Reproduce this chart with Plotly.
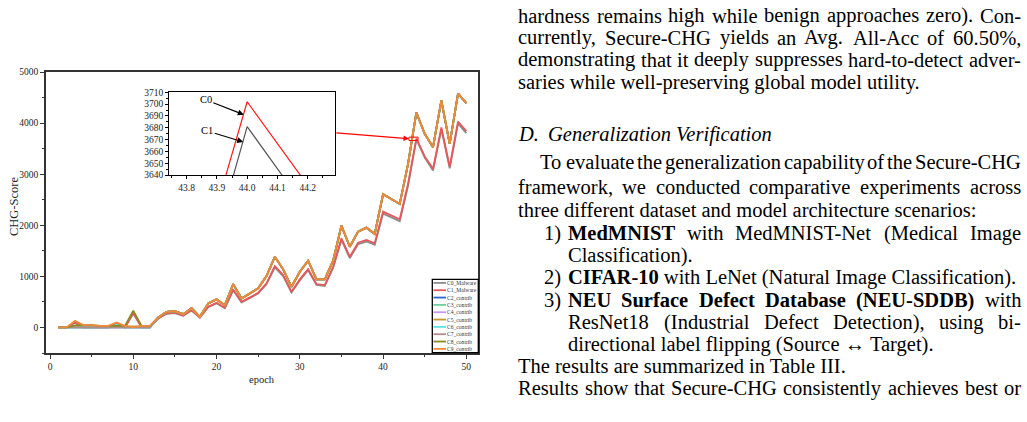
import plotly.graph_objects as go

# ---------------- page geometry ----------------
W, H = 1027, 422
ML, MR, MT, MB = 46, 549, 72, 69
PW = W - ML - MR
PH = H - MT - MB


def pxx(px):
    return (px - ML) / PW


def pxy(py):
    return (H - MB - py) / PH


# ---------------- data ----------------
epochs = list(range(1, 51))
series_names = ["C0_Malware", "C1_Malware", "C2_contrib", "C3_contrib", "C4_contrib",
                "C5_contrib", "C6_contrib", "C7_contrib", "C8_contrib", "C9_contrib"]
series_colors = ["#8c8c8c", "#e8585a", "#2a66c8", "#6fcf9c", "#c49ae8",
                 "#c8962a", "#5ee3e3", "#b08c8c", "#8a8a1e", "#f08a3c"]

c0_malware = [0, 0, 95, 0, 0, 0, 0, 75, 0, 270, 0, 0,
              172, 268, 280, 228, 330, 190, 395, 472, 376, 728,
              490, 574, 664, 845, 1178, 1003, 682, 921, 1120, 832,
              812, 1165, 1712, 1356, 1630, 1682, 1617, 2228, 2152, 2080,
              2770, 3681, 3324, 3070, 3878, 3115, 3990, 3805]
c1_malware = [0, 0, 105, 0, 0, 0, 0, 85, 0, 290, 0, 0,
              180, 277, 288, 235, 340, 196, 405, 484, 386, 745,
              503, 588, 680, 863, 1202, 1025, 698, 941, 1143, 850,
              829, 1188, 1745, 1384, 1659, 1712, 1647, 2267, 2190, 2117,
              2816, 3702, 3348, 3104, 3914, 3149, 4031, 3843]
contrib_late = [196, 306, 320, 261, 379, 209, 470, 549, 437, 849,
                568, 667, 765, 1006, 1384, 1137, 796, 1090, 1306, 941,
                941, 1306, 1992, 1580, 1875, 1953, 1829, 2608, 2510, 2418,
                3200, 4208, 3790, 3529, 4443, 3594, 4575, 4392]
c2_early = [0, 0, 0, 0, 0, 0, 0, 0, 0, 0, 0, 0]
c3_early = [0, 0, 10, 0, 0, 0, 0, 40, 0, 0, 0, 0]
c4_early = [0, 0, 0, 0, 0, 0, 0, 0, 0, 0, 0, 0]
c5_early = [0, 0, 20, 40, 40, 20, 20, 30, 20, 20, 20, 20]
c6_early = [0, 0, 0, 0, 0, 0, 0, 50, 0, 0, 0, 0]
c7_early = [0, 0, 0, 0, 0, 0, 0, 0, 0, 0, 0, 0]
c8_early = [0, 0, 40, 45, 45, 30, 30, 30, 30, 330, 30, 30]
c9_early = [0, 0, 130, 45, 45, 30, 30, 98, 30, 0, 30, 30]

series_values = [c0_malware, c1_malware,
                 c2_early + contrib_late, c3_early + contrib_late,
                 c4_early + contrib_late, c5_early + contrib_late,
                 c6_early + contrib_late, c7_early + contrib_late,
                 c8_early + contrib_late, c9_early + contrib_late]

x_ticks = [0, 10, 20, 30, 40, 50]
y_ticks = [0, 1000, 2000, 3000, 4000, 5000]
inset_x_ticks = [43.8, 43.9, 44.0, 44.1, 44.2]
inset_y_ticks = [3640, 3650, 3660, 3670, 3680, 3690, 3700, 3710]

SERIF = "Liberation Serif, Times New Roman, serif"
AX = "#333333"

fig = go.Figure()

# main curves
for name, col, vals in zip(series_names, series_colors, series_values):
    fig.add_trace(go.Scatter(x=epochs, y=vals, mode="lines", name=name,
                             line=dict(color=col, width=1.8), showlegend=False,
                             xaxis="x", yaxis="y"))

# inset curves (zoom around epoch 44)
fig.add_trace(go.Scatter(x=epochs[41:46], y=c0_malware[41:46], mode="lines",
                         line=dict(color="#555555", width=1.2), showlegend=False,
                         xaxis="x2", yaxis="y2"))
fig.add_trace(go.Scatter(x=epochs[41:46], y=c1_malware[41:46], mode="lines",
                         line=dict(color="#ff1a1a", width=1.2), showlegend=False,
                         xaxis="x2", yaxis="y2"))

annotations = []
shapes = []

# axis titles
annotations.append(dict(text="epoch", x=pxx(262), y=pxy(379), xref="paper", yref="paper",
                        showarrow=False, font=dict(family=SERIF, size=10.5, color="#222"),
                        xanchor="center", yanchor="middle"))
annotations.append(dict(text="CHG-Score", x=pxx(14), y=pxy(207), xref="paper", yref="paper",
                        showarrow=False, textangle=-90,
                        font=dict(family=SERIF, size=12.5, color="#222"),
                        xanchor="center", yanchor="middle"))

# inset labels with arrows
annotations.append(dict(text="C0", x=43.989, y=3691, xref="x2", yref="y2",
                        ax=-38, ay=-15, showarrow=True, arrowhead=2, arrowsize=1,
                        arrowwidth=1.2, arrowcolor="#000",
                        font=dict(family=SERIF, size=10.5, color="#000")))
annotations.append(dict(text="C1", x=43.987, y=3668, xref="x2", yref="y2",
                        ax=-36, ay=-11, showarrow=True, arrowhead=2, arrowsize=1,
                        arrowwidth=1.2, arrowcolor="#000",
                        font=dict(family=SERIF, size=10.5, color="#000")))

# zoom marker rect + connector arrow
shapes.append(dict(type="rect", xref="x", yref="y", x0=43.1, x1=44.2, y0=3660, y1=3725,
                   line=dict(color="#ff0000", width=1)))
annotations.append(dict(text="", x=43.1, y=3695, xref="x", yref="y",
                        ax=-74, ay=-6, showarrow=True, arrowhead=2, arrowsize=0.9,
                        arrowwidth=1.2, arrowcolor="#ff0000"))

# manual legend
lx0, lx1, ly0, ly1 = 432.3, 478.3, 279.3, 352.7
shapes.append(dict(type="rect", xref="paper", yref="paper", x0=pxx(lx0), x1=pxx(lx1),
                   y0=pxy(ly1), y1=pxy(ly0), line=dict(color="#000", width=1.3),
                   fillcolor="white", layer="above"))
for i, (name, col) in enumerate(zip(series_names, series_colors)):
    yy = 282.9 + 7.33 * i
    shapes.append(dict(type="line", xref="paper", yref="paper", x0=pxx(433.5), x1=pxx(446),
                       y0=pxy(yy), y1=pxy(yy), line=dict(color=col, width=1.8), layer="above"))
    annotations.append(dict(text=name, x=pxx(446), y=pxy(yy), xref="paper", yref="paper",
                            showarrow=False, xanchor="left", yanchor="middle", borderpad=0,
                            font=dict(family=SERIF, size=5.6, color="#333")))

# ---------------- right-hand page text ----------------
ROMAN_CHARS = (" !\"#$%&'()*+,-./0123456789:;<=>?@ABCDEFGHIJKLMNOPQRSTUVWXYZ[\\]^_`"
               "abcdefghijklmnopqrstuvwxyz{|}~")
ROMAN_W = [250, 333, 408, 500, 500, 833, 778, 333, 333, 333, 500, 564, 250, 333, 250, 278,
           500, 500, 500, 500, 500, 500, 500, 500, 500, 500, 278, 278, 564, 564, 564, 444,
           921, 722, 667, 667, 722, 611, 556, 722, 722, 333, 389, 722, 611, 889, 722, 722,
           556, 722, 667, 556, 611, 722, 722, 944, 722, 722, 611, 333, 278, 333, 469, 500,
           333, 444, 500, 444, 500, 444, 333, 500, 500, 278, 278, 500, 278, 778, 500, 500,
           500, 500, 333, 389, 278, 500, 500, 722, 500, 500, 444, 480, 200, 480, 541]
ROMAN = dict(zip(ROMAN_CHARS, ROMAN_W))
BOLD = {"A": 722, "B": 667, "C": 722, "D": 722, "E": 667, "F": 611, "I": 389, "M": 944,
        "N": 722, "R": 722, "S": 556, "T": 667, "U": 722, "a": 500, "b": 556, "c": 444,
        "d": 556, "e": 444, "f": 333, "h": 556, "i": 278, "l": 278, "n": 556, "o": 500,
        "r": 444, "s": 389, "t": 333, "u": 556, "w": 722, "(": 333, ")": 333, "-": 333,
        "0": 500, "1": 500}

FS = 20.5          # rendered font size of the page text
RIGHT = 1020       # right margin of the text column


def word_w(word, bold):
    tot = 0
    for ch in word:
        if bold:
            tot += BOLD.get(ch, ROMAN.get(ch, 500) * 1.05)
        else:
            tot += ROMAN.get(ch, 500)
    return tot / 1000.0 * FS


def add_text(text, x, y, bold=False, italic=False):
    t = text
    if bold:
        t = "<b>" + t + "</b>"
    if italic:
        t = "<i>" + t + "</i>"
    annotations.append(dict(text=t, x=pxx(x), y=pxy(y), xref="paper", yref="paper",
                            showarrow=False, xanchor="left", yanchor="middle", borderpad=0,
                            font=dict(family=SERIF, size=FS, color="#000")))


# (left px, centre y px, justified?, text) ; words starting with * are bold
text_lines = [
    (517, 16, True, "hardness remains high while benign approaches zero). Con-"),
    (517, 38, True, "currently, Secure-CHG yields an Avg. All-Acc of 60.50%,"),
    (517, 60, True, "demonstrating that it deeply suppresses hard-to-detect adver-"),
    (517, 82, False, "saries while well-preserving global model utility."),
    (539, 162, True, "To evaluate the generalization capability of the Secure-CHG"),
    (517, 187, True, "framework, we conducted comparative experiments across"),
    (517, 210, False, "three different dataset and model architecture scenarios:"),
    (567, 233, True, "*MedMNIST with MedMNIST-Net (Medical Image"),
    (567, 255, False, "Classification)."),
    (567, 277, False, "*CIFAR-10 with LeNet (Natural Image Classification)."),
    (567, 300, True, "*NEU *Surface *Defect *Database *(NEU-SDDB) with"),
    (567, 322, True, "ResNet18 (Industrial Defect Detection), using bi-"),
    (567, 344, False, "directional label flipping (Source \u2194 Target)."),
    (517, 366, False, "The results are summarized in Table III."),
    (517, 388, True, "Results show that Secure-CHG consistently achieves best or"),
]
list_labels = [(543, 233, "1)"), (543, 277, "2)"), (543, 300, "3)")]

for x0, y, just, line in text_lines:
    toks = [(w[1:], True) if w.startswith("*") else (w, False) for w in line.split(" ")]
    if just:
        widths = [word_w(t, b) for t, b in toks]
        gap = (RIGHT - x0 - sum(widths)) / (len(toks) - 1)
        x = x0
        for (t, b), wd in zip(toks, widths):
            add_text(t, x, y, bold=b)
            x += wd + gap
    else:
        parts = []
        for t, b in toks:
            parts.append("<b>" + t + "</b>" if b else t)
        add_text(" ".join(parts), x0, y)

for x0, y, lab in list_labels:
    add_text(lab, x0, y)

# section heading
add_text("D.", 517, 134, italic=True)
add_text("Generalization Verification", 547, 134, italic=True)

# ---------------- layout ----------------
fig.update_layout(
    width=W, height=H, autosize=False,
    margin=dict(l=ML, r=MR, t=MT, b=MB, pad=0),
    paper_bgcolor="white", plot_bgcolor="white",
    showlegend=False,
    xaxis=dict(domain=[0, 1], range=[-0.48, 51.4], tickmode="array", tickvals=x_ticks,
               ticks="outside", ticklen=4, tickwidth=1.3, tickcolor=AX,
               showline=True, linewidth=1.8, linecolor=AX, mirror=True,
               showgrid=False, zeroline=False,
               minor=dict(dtick=5, tick0=0, ticks="outside", ticklen=2.5, tickwidth=1, tickcolor=AX),
               tickfont=dict(family=SERIF, size=9.5, color="#222"), anchor="y"),
    yaxis=dict(domain=[0, 1], range=[-500, 5000], tickmode="array", tickvals=y_ticks,
               ticks="outside", ticklen=4, tickwidth=1.3, tickcolor=AX,
               showline=True, linewidth=1.8, linecolor=AX, mirror=True,
               showgrid=False, zeroline=False,
               minor=dict(dtick=500, tick0=0, ticks="outside", ticklen=2.5, tickwidth=1, tickcolor=AX),
               tickfont=dict(family=SERIF, size=9.5, color="#222"), anchor="x"),
    xaxis2=dict(domain=[pxx(169.3), pxx(335)], range=[43.743, 44.29], anchor="y2",
                tickmode="array", tickvals=inset_x_ticks, tickformat=".1f",
                ticks="outside", ticklen=3, tickwidth=1, tickcolor="#000",
                showline=True, linewidth=1.3, linecolor="#000", mirror=True,
                showgrid=False, zeroline=False,
                minor=dict(dtick=0.05, tick0=43.75, ticks="outside", ticklen=2, tickwidth=1, tickcolor="#000"),
                tickfont=dict(family=SERIF, size=9.5, color="#222")),
    yaxis2=dict(domain=[pxy(175), pxy(92.3)], range=[3640, 3710], anchor="x2",
                tickmode="array", tickvals=inset_y_ticks,
                ticks="outside", ticklen=3, tickwidth=1, tickcolor="#000",
                showline=True, linewidth=1.3, linecolor="#000", mirror=True,
                showgrid=False, zeroline=False,
                minor=dict(dtick=5, tick0=3640, ticks="outside", ticklen=2, tickwidth=1, tickcolor="#000"),
                tickfont=dict(family=SERIF, size=9.5, color="#222")),
    annotations=annotations,
    shapes=shapes,
)

fig.write_html("out.html")
